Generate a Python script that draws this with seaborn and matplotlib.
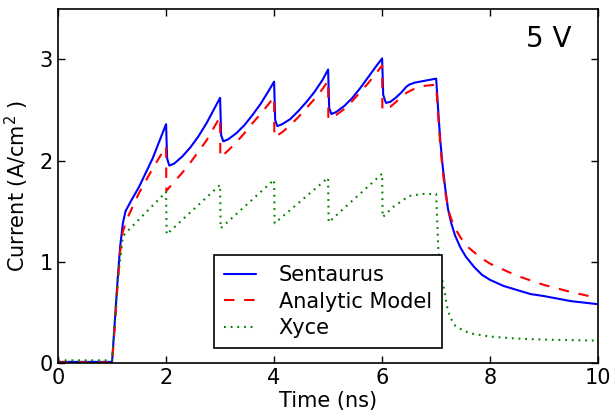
import numpy as np
import pandas as pd
import matplotlib
matplotlib.use("Agg")
import matplotlib.pyplot as plt
import seaborn as sns

# ---- data ----
sent_t = [0.0, 1.0, 1.05, 1.1, 1.15, 1.2, 1.25, 1.35, 1.5, 1.75, 2.0,
          2.02, 2.06, 2.15, 2.3, 2.45, 2.6, 2.75, 2.9, 3.0,
          3.02, 3.06, 3.15, 3.3, 3.45, 3.6, 3.75, 3.9, 4.0,
          4.02, 4.06, 4.15, 4.3, 4.45, 4.6, 4.75, 4.9, 5.0,
          5.02, 5.06, 5.15, 5.3, 5.45, 5.6, 5.75, 5.9, 6.0,
          6.02, 6.07, 6.15, 6.25, 6.35, 6.45, 6.5, 6.6, 6.8, 7.0,
          7.02, 7.05, 7.08, 7.12, 7.17, 7.22, 7.28, 7.35, 7.45, 7.55, 7.7,
          7.85, 8.0, 8.25, 8.5, 8.75, 9.0, 9.5, 10.0]
sent_v = [0.01, 0.01, 0.4, 0.8, 1.15, 1.38, 1.5, 1.6, 1.74, 2.02, 2.36,
          2.02, 1.95, 1.97, 2.04, 2.13, 2.24, 2.37, 2.52, 2.62,
          2.25, 2.19, 2.21, 2.27, 2.35, 2.45, 2.56, 2.69, 2.78,
          2.40, 2.34, 2.36, 2.41, 2.49, 2.58, 2.68, 2.80, 2.90,
          2.52, 2.46, 2.48, 2.54, 2.62, 2.72, 2.83, 2.94, 3.01,
          2.65, 2.57, 2.58, 2.62, 2.67, 2.73, 2.75, 2.77, 2.79, 2.81,
          2.65, 2.4, 2.18, 1.95, 1.72, 1.52, 1.38, 1.26, 1.14, 1.05, 0.95,
          0.87, 0.82, 0.76, 0.72, 0.68, 0.66, 0.61, 0.58]

model_t = [0.0, 1.0, 1.05, 1.1, 1.15, 1.2, 1.3, 1.5, 1.75, 2.0,
           2.005, 2.15, 2.3, 2.45, 2.6, 2.75, 2.9, 3.0,
           3.005, 3.15, 3.3, 3.45, 3.6, 3.75, 3.9, 4.0,
           4.005, 4.15, 4.3, 4.45, 4.6, 4.75, 4.9, 5.0,
           5.005, 5.15, 5.3, 5.45, 5.6, 5.75, 5.9, 6.0,
           6.005, 6.15, 6.3, 6.45, 6.6, 6.8, 7.0,
           7.03, 7.07, 7.12, 7.18, 7.25, 7.33, 7.45, 7.6, 7.8, 8.0,
           8.5, 9.0, 9.5, 10.0]
model_v = [0.005, 0.005, 0.35, 0.75, 1.1, 1.3, 1.45, 1.68, 1.92, 2.14,
           1.70, 1.79, 1.88, 1.98, 2.09, 2.20, 2.34, 2.43,
           2.03, 2.10, 2.18, 2.27, 2.37, 2.46, 2.56, 2.63,
           2.23, 2.28, 2.35, 2.43, 2.52, 2.61, 2.71, 2.79,
           2.41, 2.45, 2.51, 2.59, 2.68, 2.77, 2.87, 2.94,
           2.50, 2.53, 2.60, 2.67, 2.71, 2.74, 2.75,
           2.5, 2.2, 1.9, 1.65, 1.47, 1.35, 1.24, 1.14, 1.05, 0.98,
           0.86, 0.77, 0.70, 0.64]

xyce_t = [0.0, 1.0, 1.1, 1.2, 1.3, 2.0,
          2.01, 3.0,
          3.01, 4.0,
          4.01, 5.0,
          5.01, 6.0,
          6.01, 6.2, 6.5, 6.75, 7.0,
          7.04, 7.1, 7.15, 7.2, 7.26, 7.35, 7.5, 7.65, 8.0, 8.5, 9.0, 10.0]
xyce_v = [0.025, 0.025, 0.8, 1.25, 1.31, 1.69,
          1.27, 1.76,
          1.33, 1.81,
          1.38, 1.83,
          1.39, 1.87,
          1.44, 1.54, 1.65, 1.67, 1.67,
          1.13, 0.85, 0.72, 0.56, 0.45, 0.37, 0.32, 0.29, 0.26, 0.24, 0.23, 0.22]

sns.set_style("ticks")
plt.rcParams.update({
    "font.family": ["DejaVu Sans"],
    "font.size": 15,
    "text.color": "black",
    "axes.labelcolor": "black",
    "lines.scale_dashes": False,
    "xtick.direction": "in",
    "ytick.direction": "in",
    "xtick.top": True,
    "ytick.right": True,
    "xtick.major.size": 5,
    "ytick.major.size": 5,
    "xtick.major.width": 1.0,
    "ytick.major.width": 1.0,
    "axes.linewidth": 1.2,
    "axes.edgecolor": "black",
    "xtick.color": "black",
    "ytick.color": "black",
    "xtick.labelsize": 15,
    "ytick.labelsize": 15,
    "axes.labelsize": 15,
    "mathtext.fontset": "dejavusans",
})

fig = plt.figure(figsize=(6.11, 4.20), dpi=100)
ax = fig.add_axes([0.095, 0.136, 0.884, 0.843])

sns.lineplot(x=sent_t, y=sent_v, ax=ax, estimator=None, sort=False,
             color="#0000ff", linewidth=1.5, linestyle="-", label="Sentaurus")
sns.lineplot(x=model_t, y=model_v, ax=ax, estimator=None, sort=False,
             color="#ff0000", linewidth=1.5, linestyle=(0, (7.5, 7)),
             label="Analytic Model")
sns.lineplot(x=xyce_t, y=xyce_v, ax=ax, estimator=None, sort=False,
             color="#008000", linewidth=1.5, linestyle=(0, (1.3, 3.5)),
             label="Xyce")

ax.set_xlim(0, 10)
ax.set_ylim(0, 3.5)
ax.set_xticks([0, 2, 4, 6, 8, 10])
ax.set_yticks([0, 1, 2, 3])
ax.set_xlabel("Time (ns)", labelpad=2)
ax.set_ylabel(r"Current (A/cm$^2$ )", labelpad=6)
ax.tick_params(axis="both", which="major", pad=4)

ax.text(0.95, 0.893, "5 V", transform=ax.transAxes, ha="right",
        va="baseline", fontsize=20)

leg = ax.legend(loc="lower center", fontsize=15, frameon=True, fancybox=False,
                framealpha=1, edgecolor="black", handlelength=1.5,
                handletextpad=1.1, labelspacing=0.3, borderpad=0.5,
                borderaxespad=0.7)
leg.get_frame().set_linewidth(1.2)
for t in leg.get_texts():
    t.set_color("black")

fig.savefig("out.png", dpi=100)
